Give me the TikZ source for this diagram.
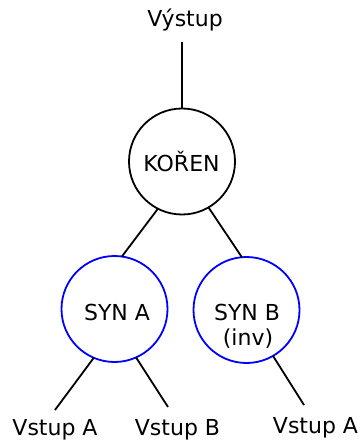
\documentclass[tikz,border=0pt]{standalone}
\usepackage{fontspec}
\setmainfont{DejaVu Sans}
\begin{document}
\begin{tikzpicture}[x=1pt,y=-1pt,line width=1.8pt,
  circ/.style={circle,draw,minimum size=106pt,inner sep=0pt,outer sep=0pt},
  bluecirc/.style={circ,draw=blue},
  txt/.style={font=\fontsize{22}{26}\selectfont,inner sep=0pt,anchor=base},
  link/.style={draw=black,line width=1.8pt}]
\useasboundingbox (0,0) rectangle (360,441);
\node[circ] (koren) at (182,161.5) {};
\node[bluecirc] (syna) at (114.5,309) {};
\node[bluecirc] (synb) at (246.5,310) {};
\node[txt] (vystup) at (185,27) {Výstup};
\node[txt] (korent) at (181.5,171) {KOŘEN};
\node[txt] (synat) at (117,320) {SYN A};
\node[txt] (synbt) at (247,320) {SYN B};
\node[txt] (synbinv) at (248,345) {(inv)};
\node[txt] (va1) at (55,435) {Vstup A};
\node[txt] (vb) at (177.5,435) {Vstup B};
\node[txt] (va2) at (315.5,433) {Vstup A};
\coordinate (out) at (182,42);
\coordinate (ea1) at (55,410);
\coordinate (eb) at (168,407);
\coordinate (ea2) at (304,405);
\draw[link] (out) -- (koren.north);
\draw[link] (koren.243) -- (syna.82);
\draw[link] (koren.300.5) -- (synb.95.8);
\draw[link] (syna.247) -- (ea1);
\draw[link] (syna.294.7) -- (eb);
\draw[link] (synb.300.5) -- (ea2);
\end{tikzpicture}
\end{document}
